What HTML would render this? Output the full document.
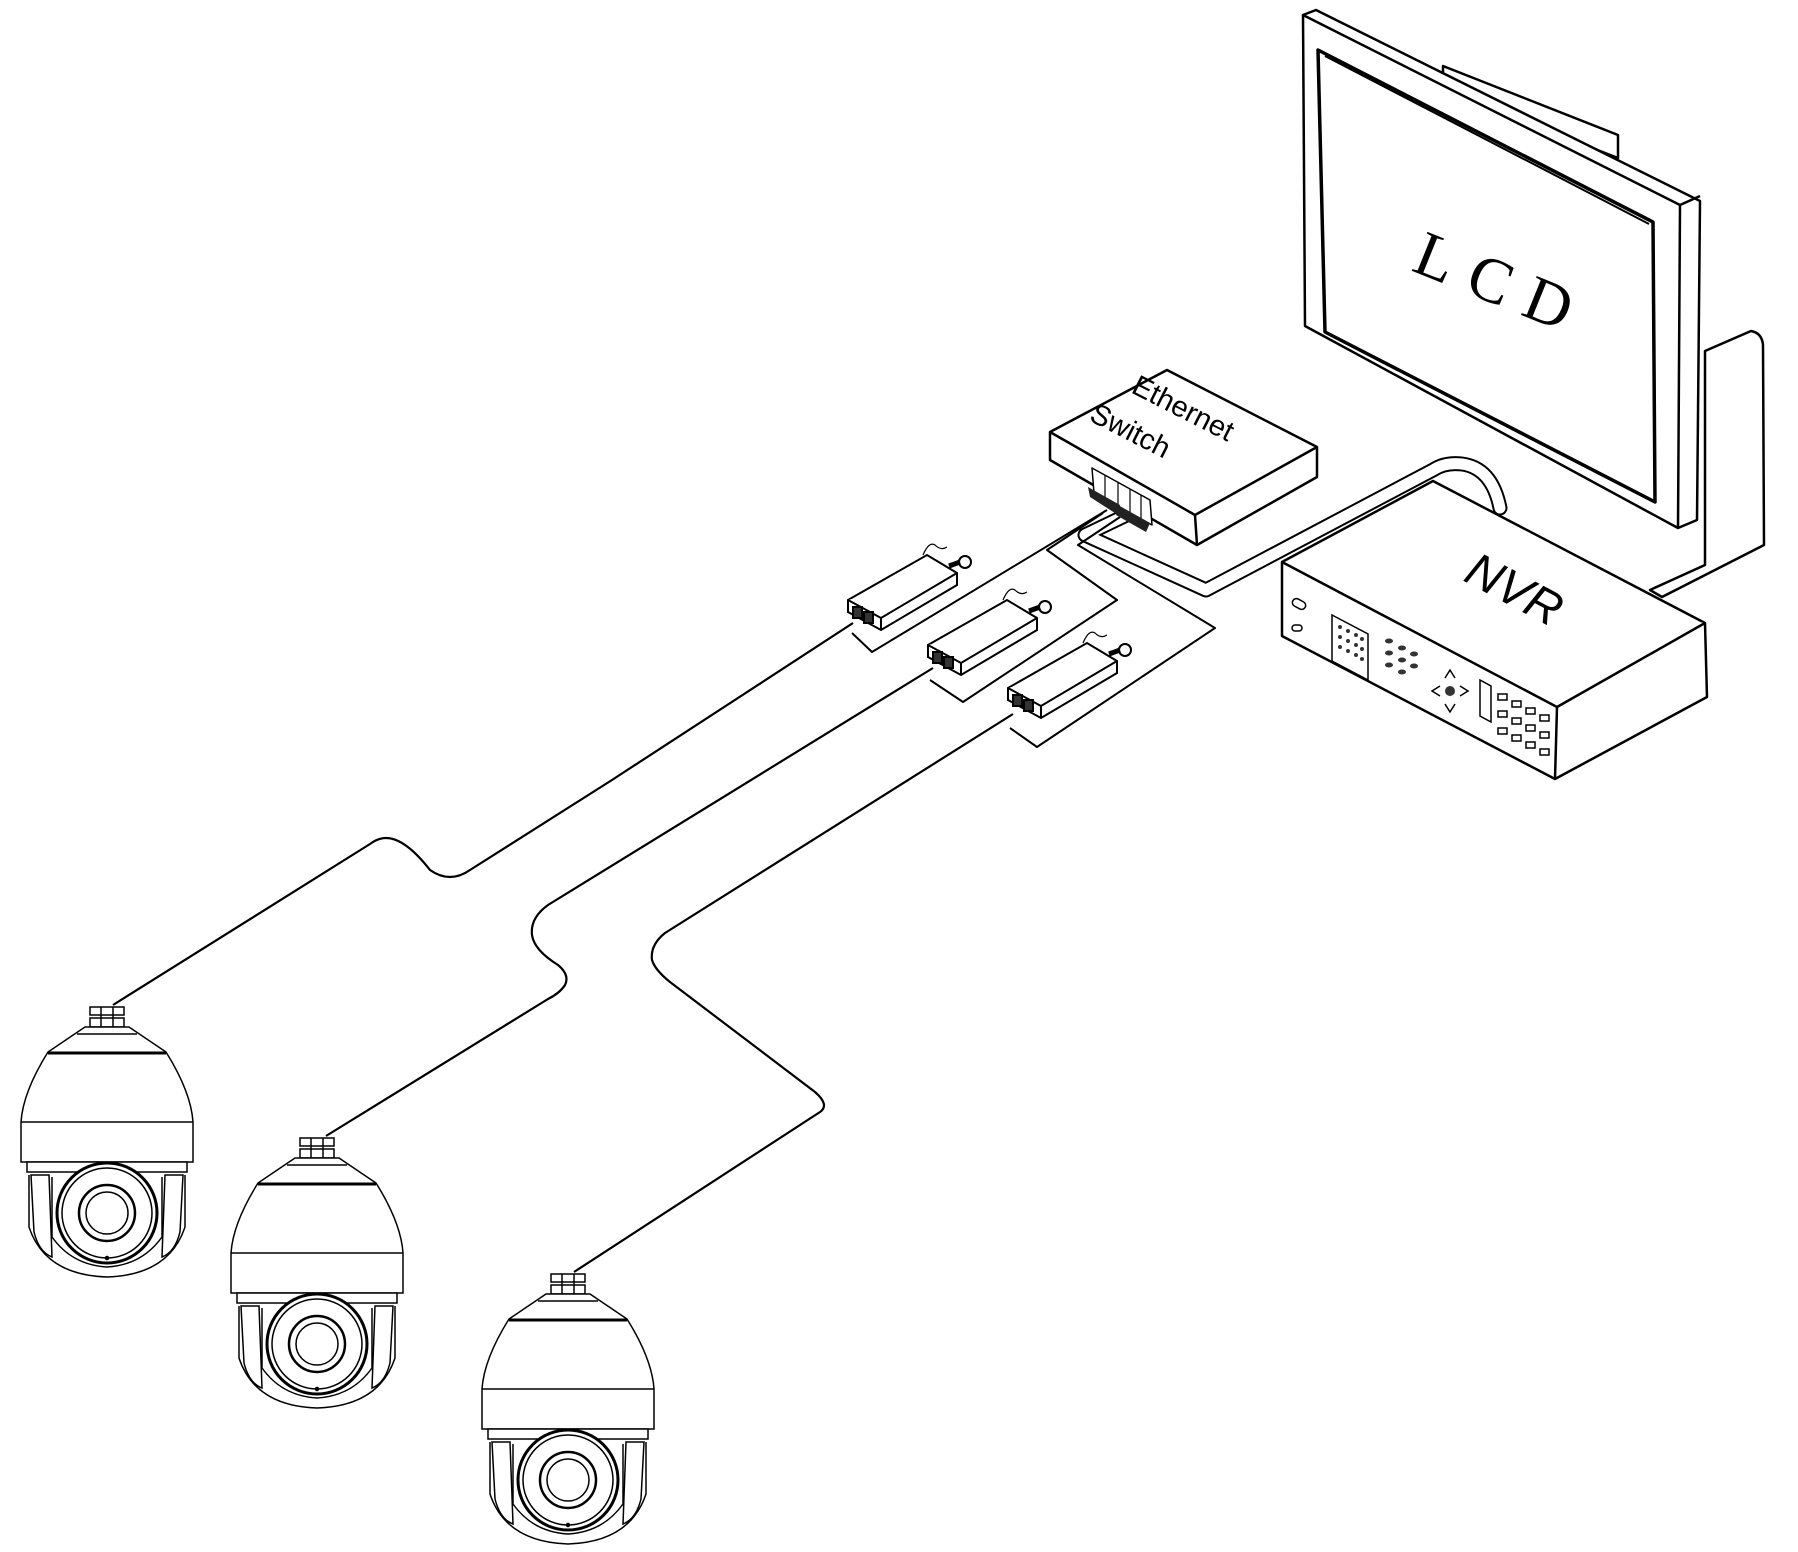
<!DOCTYPE html>
<html><head><meta charset="utf-8"><style>html,body{margin:0;padding:0;background:#fff}svg{display:block}</style></head>
<body>
<svg width="1798" height="1552" viewBox="0 0 1798 1552" xmlns="http://www.w3.org/2000/svg" font-family="Liberation Sans, sans-serif">
<defs>
<g id="cam" fill="#fff" stroke="#000" stroke-width="1.5">
  <rect x="-17" y="0" width="34" height="8"/>
  <rect x="-17" y="11" width="34" height="9"/>
  <line x1="-6" y1="0" x2="-6" y2="20"/><line x1="6" y1="0" x2="6" y2="20"/>
  <path d="M-22,20 L22,20 L59,45 Q84,85 86,115 L86,155 L-86,155 L-86,115 Q-84,85 -59,45 Z"/>
  <line x1="-30" y1="27" x2="30" y2="27"/>
  <line x1="-59" y1="46" x2="59" y2="46" stroke-width="3"/>
  <line x1="-86" y1="115" x2="86" y2="115"/>
  <rect x="-80" y="155" width="160" height="10"/>
  <path d="M-78,168 L-78,220 Q-62,268 0,270 Q62,268 78,220 L78,168"/>
  <path d="M-55,170 L-55,230 Q-35,258 0,260 Q35,258 55,230 L55,170"/>
  <path d="M-76,168 L-58,168 L-55,250 Q-68,245 -73,225 Z"/>
  <path d="M76,168 L58,168 L55,250 Q68,245 73,225 Z"/>
  <circle cx="0" cy="206" r="50" stroke-width="3"/>
  <circle cx="0" cy="206" r="45"/>
  <circle cx="0" cy="206" r="28" stroke-width="2.5"/>
  <circle cx="0" cy="206" r="21"/>
  <circle cx="0" cy="251" r="1.5" fill="#000"/>
</g>
<g id="inj" stroke="#000" stroke-width="2" fill="#fff">
  <path d="M0,0 L79,-45 L109,-27 L109,-15 L33,30 L0,12 Z"/>
  <path d="M0,0 L33,18 L109,-27 M33,18 L33,30"/>
  <rect x="5" y="7" width="9" height="11" fill="#333"/>
  <rect x="16" y="12" width="9" height="11" fill="#333"/>
  <path d="M75,-45 q6,-14 12,-10 q6,6 12,2" fill="none" stroke-width="1.2"/>
  <circle cx="117" cy="-38" r="6"/>
  <path d="M101,-34 L112,-38" stroke-width="5"/>
</g>
</defs>

<!-- Monitor -->
<g stroke="#000" stroke-width="2.5" fill="#fff" stroke-linejoin="round">
  <path d="M1443,66 L1618,135 L1618,158 L1443,90 Z"/>
  <path d="M1705,351 L1751,331 Q1762,333 1763,345 L1764,545 L1662,597 L1650,590 L1705,565 Z"/>
  <path d="M1303,15 L1316,10 L1700,201 L1697,520 L1678,528 Z"/>
  <path d="M1303,15 L1680,205 L1678,528 L1305,326 Z"/>
  <path d="M1680,205 L1700,196"/>
  <path d="M1318,50 L1653,222 L1655,502 L1325,332 Z" stroke-width="3.5"/>
  <path d="M1325,56 L1649,224" stroke-width="2"/>
</g>
<text x="0" y="0" font-family="Liberation Serif, serif" font-size="64" transform="translate(1410,270) rotate(22)" letter-spacing="18">LCD</text>

<!-- Cable NVR -> switch -->
<g fill="none" stroke-linejoin="round" stroke-linecap="round">
  <path d="M1500,508 Q1492,468 1462,464 Q1445,462 1433,470 L1206,590 L1085,535 L1137,510" stroke="#000" stroke-width="15"/>
  <path d="M1500,508 Q1492,468 1462,464 Q1445,462 1433,470 L1206,590 L1085,535 L1137,510" stroke="#fff" stroke-width="11"/>
</g>

<!-- NVR -->
<g stroke="#000" stroke-width="2.5" fill="#fff" stroke-linejoin="round">
  <path d="M1282,562 L1433,481 L1705,623 L1707,697 L1555,779 L1282,636 Z"/>
  <path d="M1282,562 L1557,707 L1705,623 M1557,707 L1555,779"/>
</g>
<text font-size="48" font-style="italic" transform="translate(1462,580) rotate(28)">NVR</text>
<g stroke="#000" stroke-width="1.5" fill="#fff">
  <rect x="1292" y="600" width="14" height="8" rx="4" transform="rotate(28 1299 604)"/>
  <rect x="1292" y="625" width="10" height="6" rx="3"/>
  <path d="M1332,615 L1368,634 L1368,680 L1332,661 Z"/>
  <path d="M1480,680 L1491,686 L1491,722 L1480,716 Z"/>
</g>
<g fill="#333">
  <circle cx="1340" cy="627" r="2"/><circle cx="1348" cy="631" r="2"/><circle cx="1356" cy="635" r="2"/><circle cx="1362" cy="639" r="2"/>
  <circle cx="1340" cy="637" r="2"/><circle cx="1348" cy="641" r="2"/><circle cx="1356" cy="645" r="2"/><circle cx="1362" cy="649" r="2"/>
  <circle cx="1340" cy="647" r="2"/><circle cx="1348" cy="651" r="2"/><circle cx="1356" cy="655" r="2"/><circle cx="1362" cy="659" r="2"/>
  <ellipse cx="1389" cy="641" rx="4" ry="2.5"/><ellipse cx="1402" cy="648" rx="4" ry="2.5"/><ellipse cx="1414" cy="654" rx="4" ry="2.5"/>
  <ellipse cx="1389" cy="653" rx="4" ry="2.5"/><ellipse cx="1402" cy="660" rx="4" ry="2.5"/><ellipse cx="1414" cy="666" rx="4" ry="2.5"/>
  <ellipse cx="1389" cy="665" rx="4" ry="2.5"/><ellipse cx="1402" cy="672" rx="4" ry="2.5"/>
  <circle cx="1450" cy="691" r="5"/>
</g>
<g fill="none" stroke="#000" stroke-width="1.5">
  <path d="M1445,678 l5,-8 l5,8"/><path d="M1445,704 l5,8 l5,-8"/><path d="M1440,686 l-8,5 l8,5"/><path d="M1460,686 l8,5 l-8,5"/>
</g>
<g fill="#fff" stroke="#000" stroke-width="1.5">
  <rect x="1498" y="694" width="9" height="6"/><rect x="1512" y="701" width="9" height="6"/><rect x="1526" y="708" width="9" height="6"/><rect x="1540" y="715" width="9" height="6"/>
  <rect x="1498" y="711" width="9" height="6"/><rect x="1512" y="718" width="9" height="6"/><rect x="1526" y="725" width="9" height="6"/><rect x="1540" y="732" width="9" height="6"/>
  <rect x="1498" y="728" width="9" height="6"/><rect x="1512" y="735" width="9" height="6"/><rect x="1526" y="742" width="9" height="6"/><rect x="1540" y="749" width="9" height="6"/>
</g>

<!-- Injector-switch loops -->
<g fill="none" stroke="#000" stroke-width="2" stroke-linejoin="round">
  <path d="M852,633 L872,652 L1107,510"/>
  <path d="M930,680 L963,702 L1117,600 L1047,550 L1103,513"/>
  <path d="M1010,728 L1037,747 L1215,628 L1078,545 L1120,517"/>
</g>

<!-- Switch -->
<g stroke="#000" stroke-width="2.5" fill="#fff" stroke-linejoin="round">
  <path d="M1050,432 L1167,370 L1317,447 L1317,477 L1197,545 L1050,460 Z"/>
  <path d="M1050,432 L1195,515 L1317,447 M1195,515 L1197,545"/>
  <path d="M1092,468 L1150,500 L1152,525 L1094,493 Z" stroke-width="1.5"/>
  <path d="M1105,475 L1105,500 M1118,482 L1118,507 M1130,489 L1130,514 M1141,495 L1141,520" stroke-width="1.2"/>
</g>
<g fill="#222"><path d="M1088,487 L1120,505 L1118,515 L1090,497 Z"/><path d="M1118,505 L1150,523 L1146,532 L1116,515 Z"/></g>
<text font-size="29" transform="translate(1130,392) rotate(27)">Ethernet</text>
<text font-size="29" transform="translate(1088,420) rotate(27)">Switch</text>

<!-- Injectors -->
<use href="#inj" transform="translate(848,600)"/>
<use href="#inj" transform="translate(928,645)"/>
<use href="#inj" transform="translate(1008,688)"/>

<!-- Camera cables -->
<g fill="none" stroke="#000" stroke-width="2.2" stroke-linejoin="round">
  <path d="M853,623 L612,780 L470,870 Q450,884 430,870 Q405,838 386,838 Q378,838 370,844 L113,1005"/>
  <path d="M933,668 L548,905 Q530,918 532,935 Q534,950 558,965 Q570,975 565,985 Q560,993 548,999 L326,1136"/>
  <path d="M1013,714 L665,933 Q650,945 652,960 Q655,970 670,982 L815,1092 Q830,1105 820,1112 L574,1272"/>
</g>

<!-- Cameras -->
<use href="#cam" transform="translate(107,1007)"/>
<use href="#cam" transform="translate(317,1138)"/>
<use href="#cam" transform="translate(568,1274)"/>
</svg>
</body></html>
